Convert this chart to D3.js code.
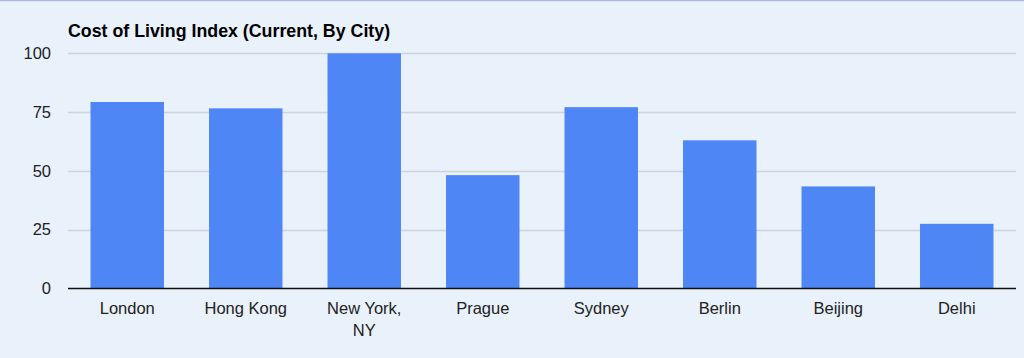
<!DOCTYPE html>
<html><head><meta charset="utf-8">
<script src="https://cdn.jsdelivr.net/npm/d3@7"></script>
<style>
html,body{margin:0;padding:0;background:#e9f1fb;}
svg{display:block;}
</style></head>
<body><svg id="c" width="1024" height="358"></svg>
<script>
const categories = ["London","Hong Kong","New York, NY","Prague","Sydney","Berlin","Beijing","Delhi"];
const values = [79.3, 76.6, 100, 48.2, 77.1, 63.0, 43.4, 27.5];
const yTicks = [0, 25, 50, 75, 100];
const title = "Cost of Living Index (Current, By City)";

const svg = d3.select("#c");
const W = 1024, H = 358;
const m = {left: 68, right: 8, top: 53, bottom: 70};
const FONT = "Liberation Sans, Arial, sans-serif";

svg.append("rect").attr("x",0).attr("y",0).attr("width",W).attr("height",H).attr("fill","#e9f1fb");
svg.append("line").attr("x1",0).attr("x2",W).attr("y1",0.5).attr("y2",0.5).attr("stroke","#aab9da").attr("stroke-width",1.5);

const x = d3.scaleBand().domain(categories).range([m.left, W - m.right]).paddingInner(0.38).paddingOuter(0.19);
const y = d3.scaleLinear().domain([0,100]).range([288.5, 53.3]);

// grid
svg.append("g").selectAll("line").data(yTicks.filter(d=>d>0)).join("line")
  .attr("x1", m.left).attr("x2", W - m.right)
  .attr("y1", d=>Math.round(y(d))+0.5).attr("y2", d=>Math.round(y(d))+0.5)
  .attr("stroke","#cdd3dc").attr("stroke-width",1.5);

// y axis labels
const yAxis = d3.axisLeft(y).tickValues(yTicks).tickSize(0).tickPadding(17);
const gy = svg.append("g").attr("transform",`translate(${m.left},0)`).call(yAxis);
gy.select(".domain").remove();
gy.selectAll("text").attr("font-family",FONT).attr("font-size",16.5).attr("fill","#222");

// bars
svg.append("g").selectAll("rect").data(values).join("rect")
  .attr("x",(d,i)=>x(categories[i]))
  .attr("width", x.bandwidth())
  .attr("y", d=>y(d))
  .attr("height", d=>y(0)-y(d))
  .attr("fill","#4e87f5");

// baseline
svg.append("line").attr("x1",m.left).attr("x2",W-m.right).attr("y1",y(0)).attr("y2",y(0)).attr("stroke","#111").attr("stroke-width",1.5);

// x axis
const xAxis = d3.axisBottom(x).tickSize(0).tickPadding(0);
const gx = svg.append("g").attr("transform",`translate(0,${y(0)})`).call(xAxis);
gx.select(".domain").remove();
gx.selectAll("text").each(function(d){
  const t = d3.select(this);
  t.text(null).attr("y",0).attr("dy",null)
   .attr("font-family",FONT).attr("font-size",16.5).attr("fill","#222");
  const parts = d === "New York, NY" ? ["New York,","NY"] : [d];
  parts.forEach((p,i)=>{
    t.append("tspan").attr("x",0).attr("y", 25.5 + i*21.5).text(p);
  });
});

// title
svg.append("text").attr("x",68).attr("y",36.5).text(title)
  .attr("font-family",FONT).attr("font-weight","bold").attr("font-size",17.8).attr("fill","#000");
</script></body></html>
